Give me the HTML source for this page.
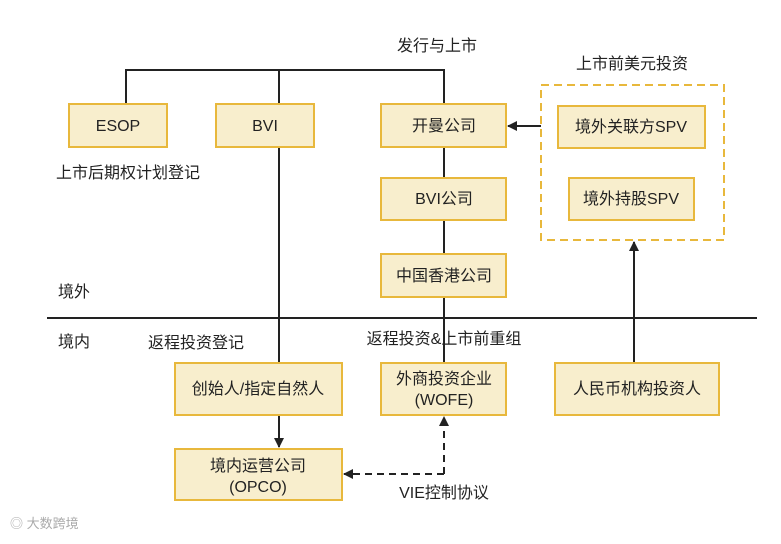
<!DOCTYPE html>
<html><head><meta charset="utf-8"><style>
body{margin:0;width:781px;height:539px;background:#fff;overflow:hidden}
svg text{font-family:"Liberation Sans","Noto Sans CJK SC",sans-serif;font-size:16px;fill:#222}
</style></head><body>
<svg width="781" height="539" xmlns="http://www.w3.org/2000/svg">
<defs>
<marker id="a" markerWidth="10" markerHeight="10" refX="9" refY="5" orient="auto" markerUnits="userSpaceOnUse"><path d="M0,0 L10,5 L0,10 z" fill="#222"/></marker>
</defs>
<g stroke="#222" stroke-width="2" fill="none">
<path d="M126,104 V70 H444 V363"/>
<path d="M279,70 V104"/>
<path d="M279,147 V363"/>
<path d="M47,318 H757"/>
<path d="M279,415 V447" marker-end="url(#a)"/>
<path d="M541,126 H508" marker-end="url(#a)"/>
<path d="M634,363 V242" marker-end="url(#a)"/>
<path d="M444,474 V417" stroke-dasharray="7,5" marker-end="url(#a)"/>
<path d="M444,474 H344" stroke-dasharray="7,5" marker-end="url(#a)"/>
</g>
<rect x="541" y="85" width="183" height="155" fill="none" stroke="#e8b83c" stroke-width="2" stroke-dasharray="8,5"/>
<g fill="#f8eecd" stroke="#e8b83c" stroke-width="2">
<rect x="69" y="104" width="98" height="43"/>
<rect x="216" y="104" width="98" height="43"/>
<rect x="381" y="104" width="125" height="43"/>
<rect x="381" y="178" width="125" height="42"/>
<rect x="381" y="254" width="125" height="43"/>
<rect x="558" y="106" width="147" height="42"/>
<rect x="569" y="178" width="125" height="42"/>
<rect x="175" y="363" width="167" height="52"/>
<rect x="381" y="363" width="125" height="52"/>
<rect x="555" y="363" width="164" height="52"/>
<rect x="175" y="449" width="167" height="51"/>
</g>
<g text-anchor="middle">
<text x="118" y="131">ESOP</text>
<text x="265" y="131">BVI</text>
<text x="444" y="131">开曼公司</text>
<text x="444" y="204">BVI公司</text>
<text x="444" y="281">中国香港公司</text>
<text x="631" y="132">境外关联方SPV</text>
<text x="631" y="204">境外持股SPV</text>
<text x="258" y="394">创始人/指定自然人</text>
<text x="444" y="384">外商投资企业</text>
<text x="444" y="405">(WOFE)</text>
<text x="637" y="394">人民币机构投资人</text>
<text x="258" y="471">境内运营公司</text>
<text x="258" y="492">(OPCO)</text>
<text x="437" y="51">发行与上市</text>
<text x="632" y="69">上市前美元投资</text>
<text x="128" y="178">上市后期权计划登记</text>
<text x="196" y="348">返程投资登记</text>
<text x="444" y="344">返程投资&amp;上市前重组</text>
<text x="444" y="498">VIE控制协议</text>
</g>
<text x="58" y="297">境外</text>
<text x="58" y="347">境内</text>
<text x="10" y="528" style="font-size:13px;fill:#aaa">◎ 大数跨境</text>
</svg>
</body></html>
